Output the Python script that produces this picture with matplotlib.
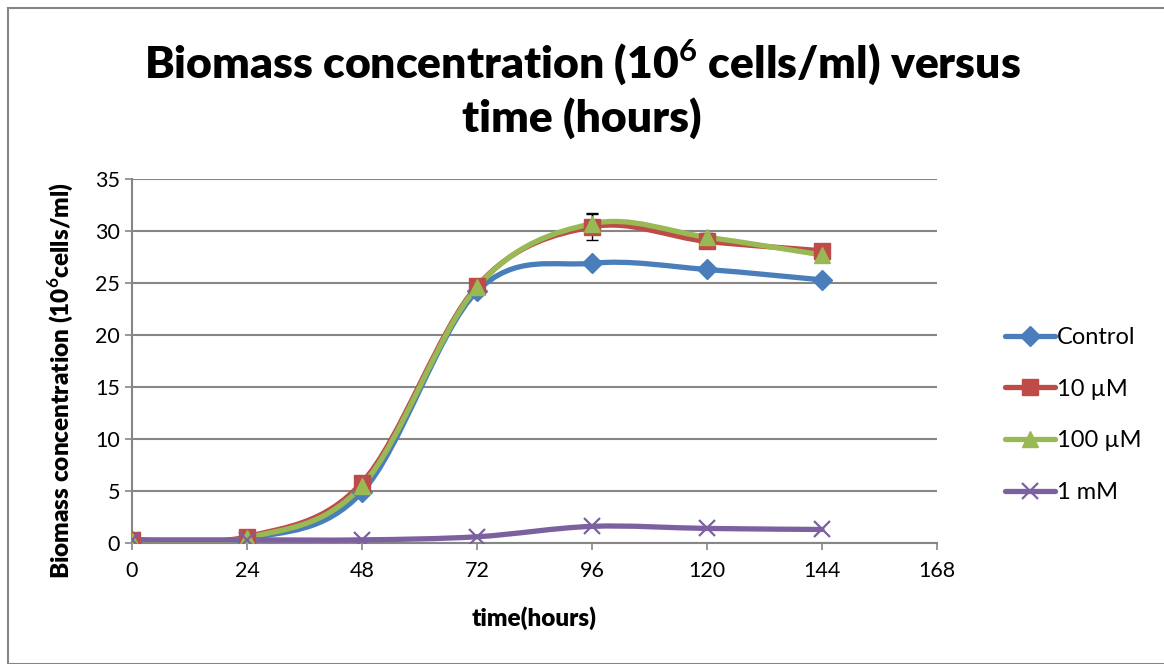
import matplotlib
matplotlib.use("Agg")
import matplotlib.pyplot as plt
import numpy as np
from matplotlib.path import Path
from matplotlib.patches import PathPatch, Rectangle
from matplotlib.lines import Line2D

hours = [0, 24, 48, 72, 96, 120, 144]
control = [0.2, 0.4, 4.9, 24.2, 26.9, 26.3, 25.3]
um10 = [0.3, 0.6, 5.8, 24.7, 30.4, 29.0, 28.1]
um100 = [0.2, 0.5, 5.5, 24.6, 30.7, 29.4, 27.7]
mm1 = [0.3, 0.3, 0.3, 0.6, 1.6, 1.4, 1.3]
err10 = [0.1, 0.2, 0.3, 0.3, 1.3, 0.4, 0.3]
err100 = [0.1, 0.2, 0.3, 0.3, 0.9, 0.4, 0.3]
labels = ["Control", "10 µM", "100 µM", "1 mM"]
colors = ["#4A7EBB", "#BE4B48", "#98B954", "#7D60A0"]
markers = ["D", "s", "^", "x"]
msizes = [10, 12, 12, 12]
xticks = [0, 24, 48, 72, 96, 120, 144, 168]
yticks = [0, 5, 10, 15, 20, 25, 30, 35]

plt.rcParams['font.family'] = ['Lato', 'DejaVu Sans']
plt.rcParams['mathtext.fontset'] = 'custom'
plt.rcParams['mathtext.bf'] = 'Lato:bold'
plt.rcParams['mathtext.rm'] = 'Lato'

fig = plt.figure(figsize=(11.64, 6.64), dpi=100)
fig.patches.append(Rectangle((8/1164, 0), 1.2, 1 - 8/664, transform=fig.transFigure,
                             fill=False, edgecolor="#868686", linewidth=1.5))
ax = fig.add_axes([132/1164, 1 - 543/664, (937 - 132)/1164, (543 - 179)/664])


def smooth_path(x, y):
    x = np.asarray(x, float)
    y = np.asarray(y, float)
    verts = [(x[0], y[0])]
    codes = [Path.MOVETO]
    n = len(x)
    for i in range(n - 1):
        p0 = (x[max(i - 1, 0)], y[max(i - 1, 0)])
        p1 = (x[i], y[i])
        p2 = (x[i + 1], y[i + 1])
        p3 = (x[min(i + 2, n - 1)], y[min(i + 2, n - 1)])
        c1 = (p1[0] + (p2[0] - p0[0]) / 6, p1[1] + (p2[1] - p0[1]) / 6)
        c2 = (p2[0] - (p3[0] - p1[0]) / 6, p2[1] - (p3[1] - p1[1]) / 6)
        verts += [c1, c2, p2]
        codes += [Path.CURVE4] * 3
    return Path(verts, codes)


series = [control, um10, um100, mm1]
errs = [None, err10, err100, None]
for s, c, m, ms, e in zip(series, colors, markers, msizes, errs):
    ax.add_patch(PathPatch(smooth_path(hours, s), facecolor="none", edgecolor=c,
                           linewidth=3.8, capstyle="round", zorder=3))
    if e is not None:
        ax.errorbar(hours, s, yerr=e, fmt="none", ecolor="black", elinewidth=1,
                    capsize=4, zorder=3.5)
    if m == "x":
        ax.plot(hours, s, linestyle="none", marker=m, markersize=ms, color=c,
                markeredgewidth=1.6, zorder=4)
    else:
        ax.plot(hours, s, linestyle="none", marker=m, markersize=ms, color=c,
                markeredgecolor=c, zorder=4)

ax.set_xlim(0, 168)
ax.set_ylim(0, 35)
ax.set_xticks(xticks)
ax.set_yticks(yticks)
ax.tick_params(labelsize=15.5, colors="black", length=5, width=1.2)
ax.tick_params(axis="both", color="#868686")
ax.yaxis.grid(True, color="#868686", linewidth=1.5)
ax.set_axisbelow(True)
for sp in ["top", "right"]:
    ax.spines[sp].set_visible(False)
for sp in ["left", "bottom"]:
    ax.spines[sp].set_color("#868686")
    ax.spines[sp].set_linewidth(1.5)
ax.tick_params(axis="x", pad=8)

ax.set_xlabel("time(hours)", fontsize=17.5, fontweight="heavy", labelpad=18)
ax.set_ylabel(r"Biomass concentration (10$^{\mathbf{6}}$cells/ml)", fontsize=17.5,
              fontweight="heavy")
ax.yaxis.set_label_coords(-0.071, 0.445)

fig.text(0.5, 1 - 62/664, r"Biomass concentration (10$^{\mathbf{6}}$ cells/ml) versus",
         ha="center", va="center", fontsize=32, fontweight="heavy")
fig.text(0.5, 1 - 118/664, "time (hours)", ha="center", va="center",
         fontsize=32, fontweight="heavy")

handles = []
for c, m, ms in zip(colors, markers, msizes):
    if m == "x":
        handles.append(Line2D([], [], color=c, linewidth=3.8, marker=m, markersize=ms,
                              markeredgewidth=1.6, solid_capstyle="round"))
    else:
        handles.append(Line2D([], [], color=c, linewidth=3.8, marker=m, markersize=ms,
                              markeredgecolor=c, solid_capstyle="round"))
fig.legend(handles, labels, loc="center left", bbox_to_anchor=(984/1164, 1 - 415/664),
           frameon=False, fontsize=17, handlelength=2.1, handletextpad=0.1,
           labelspacing=1.3)

fig.savefig("out.png", dpi=100)
